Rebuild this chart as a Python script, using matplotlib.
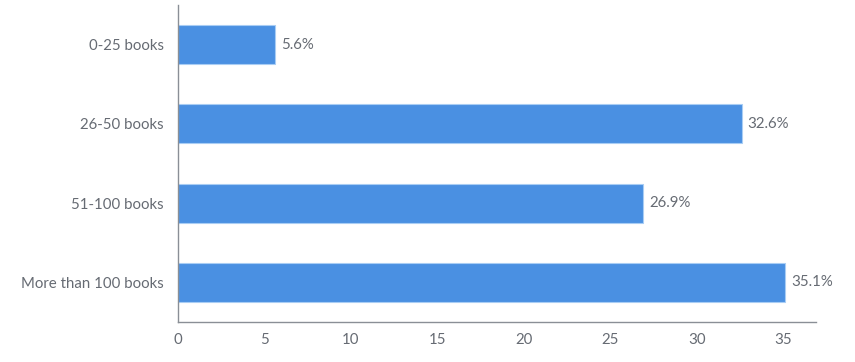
import matplotlib
matplotlib.use("Agg")
import matplotlib.pyplot as plt

categories = ["0-25 books", "26-50 books", "51-100 books", "More than 100 books"]
values = [5.6, 32.6, 26.9, 35.1]
xticks = [0, 5, 10, 15, 20, 25, 30, 35]

plt.rcParams["font.family"] = ["Lato", "DejaVu Sans"]
text_color = "#666b73"

fig = plt.figure(figsize=(8.55, 3.62), dpi=100)
ax = fig.add_axes([0.2082, 0.1105, 0.7462, 0.8757])

ypos = list(range(len(categories)))
ax.barh(ypos, values, height=0.49, color="#4a90e2", edgecolor="#a9cdf4", linewidth=0.8)
for y, v in zip(ypos, values):
    ax.text(v + 0.35, y, f"{v}%", va="center", ha="left", fontsize=10.8, color=text_color)

ax.set_yticks(ypos)
ax.set_yticklabels(categories)
ax.set_ylim(3.5, -0.5)
ax.set_xlim(0, 36.9)
ax.set_xticks(xticks)
ax.tick_params(axis="both", length=0, labelsize=10.8, labelcolor=text_color)
ax.tick_params(axis="y", pad=10)
ax.tick_params(axis="x", pad=8)

for side in ("top", "right"):
    ax.spines[side].set_visible(False)
for side in ("left", "bottom"):
    ax.spines[side].set_color("#8a8f96")
    ax.spines[side].set_linewidth(1.0)

fig.savefig("out.png", dpi=100)
